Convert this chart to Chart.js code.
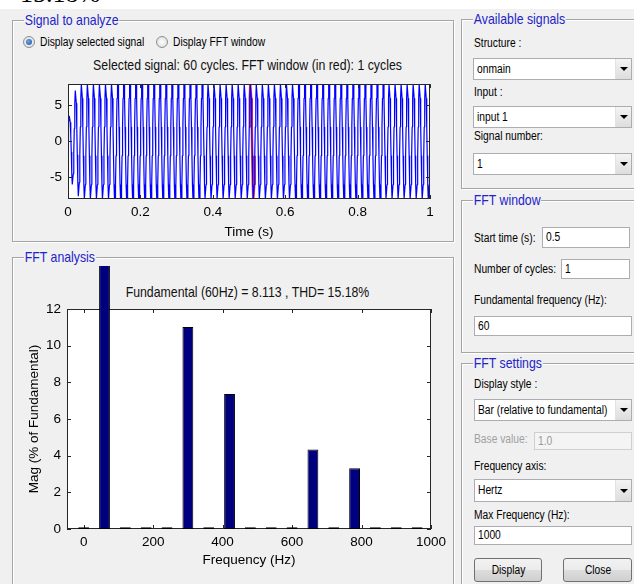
<!DOCTYPE html>
<html>
<head>
<meta charset="utf-8">
<script src="https://cdn.jsdelivr.net/npm/chart.js@4.4.1/dist/chart.umd.min.js"></script>
<style>
  body { margin: 0; width: 634px; height: 584px; overflow: hidden; background: #F0F0F0; position: relative;
         font-family: 'Liberation Sans', Arial, sans-serif; font-size: 12.5px; color: #000; }
  .abs { position: absolute; }
  .n { display: inline-block; transform: scaleX(0.82); transform-origin: 0 50%; white-space: nowrap; }
  .topband { left: 0; top: 0; width: 634px; height: 9px; background: #fff; overflow: hidden; }
  .topband span { position: absolute; left: 20px; top: -19px; font: 26px/26px 'Liberation Serif', 'Times New Roman', serif; }
  .frame { position: absolute; border: 1px solid #A5A5A5; box-shadow: inset 1px 1px 0 #fff, 1px 1px 0 #fff; box-sizing: border-box; }
  .frame .ttl { position: absolute; left: 11px; top: -10px; background: #F0F0F0; padding: 0 1px; color: #2323C8; font-size: 15px; line-height: 18px;
                transform: scaleX(0.82); transform-origin: 0 50%; white-space: nowrap; }
  .lbl { position: absolute; line-height: 16px; white-space: nowrap; transform: scaleX(0.82); transform-origin: 0 50%; }
  .sel, .inp { position: absolute; background: #fff; border: 1px solid #ABADB3; box-sizing: border-box; padding-left: 3px; white-space: nowrap; overflow: hidden; }
  .sel .arr { position: absolute; right: 0; top: 0; bottom: 0; width: 15px; background: linear-gradient(#F4F4F4, #DDDDDD); border-left: 1px solid #E2E2E2; }
  .sel .arr::after { content: ''; position: absolute; left: 4px; top: 50%; margin-top: -2px; border-left: 4px solid transparent; border-right: 4px solid transparent; border-top: 4px solid #000; }
  .dis { background: #F4F4F4; border-color: #CFCFCF; color: #9A9A9A; }
  .btn { position: absolute; box-sizing: border-box; border: 1px solid #707070; border-radius: 3px; background: linear-gradient(#F2F2F2 0%, #EBEBEB 50%, #DDDDDD 51%, #CFCFCF 100%); text-align: center; }
  .btn .n { transform-origin: 50% 50%; }
  .radio { position: absolute; width: 12px; height: 12px; border-radius: 50%; border: 1px solid #8E8F8F; box-sizing: border-box; background: radial-gradient(#fff, #D6D6D6); }
  .radio.on::after { content: ''; position: absolute; left: 2px; top: 2px; width: 6px; height: 6px; border-radius: 50%; background: radial-gradient(circle at 40% 40%, #6CA4E6, #1D4F9E); }
  .ptitle { position: absolute; left: 0; width: 495px; text-align: center; font-size: 15px; line-height: 18px; color: #111;
            transform: scaleX(0.82); transform-origin: 247.5px 50%; white-space: nowrap; }
  canvas { position: absolute; }
</style>
</head>
<body>
<div class="abs topband"><span>15.18%</span></div>

<div class="frame" style="left:12px;top:20px;width:442px;height:222px"><span class="ttl">Signal to analyze</span></div>
<div class="frame" style="left:12px;top:257px;width:442px;height:340px"><span class="ttl">FFT analysis</span></div>
<div class="frame" style="left:461px;top:19px;width:190px;height:170px"><span class="ttl">Available signals</span></div>
<div class="frame" style="left:461px;top:200px;width:190px;height:153px"><span class="ttl">FFT window</span></div>
<div class="frame" style="left:461px;top:363px;width:190px;height:300px"><span class="ttl">FFT settings</span></div>

<div class="radio on" style="left:23px;top:36px"></div>
<div class="lbl" style="left:40px;top:34px">Display selected signal</div>
<div class="radio" style="left:156px;top:36px"></div>
<div class="lbl" style="left:173px;top:34px">Display FFT window</div>

<div class="ptitle" style="top:56px">Selected signal: 60 cycles. FFT window (in red): 1 cycles</div>
<div class="ptitle" style="top:283px">Fundamental (60Hz) = 8.113 , THD= 15.18%</div>

<div class="lbl" style="left:474px;top:35px">Structure :</div>
<div class="sel" style="left:473px;top:58px;width:159px;height:22px;line-height:20px"><span class="n">onmain</span><span class="arr"></span></div>
<div class="lbl" style="left:474px;top:84px">Input :</div>
<div class="sel" style="left:473px;top:106px;width:159px;height:22px;line-height:20px"><span class="n">input 1</span><span class="arr"></span></div>
<div class="lbl" style="left:474px;top:128px">Signal number:</div>
<div class="sel" style="left:473px;top:153px;width:159px;height:22px;line-height:20px"><span class="n">1</span><span class="arr"></span></div>

<div class="lbl" style="left:474px;top:230px">Start time (s):</div>
<div class="inp" style="left:542px;top:227px;width:88px;height:21px;line-height:19px"><span class="n">0.5</span></div>
<div class="lbl" style="left:474px;top:261px">Number of cycles:</div>
<div class="inp" style="left:561px;top:259px;width:69px;height:20px;line-height:18px"><span class="n">1</span></div>
<div class="lbl" style="left:474px;top:292px">Fundamental frequency (Hz):</div>
<div class="inp" style="left:474px;top:316px;width:158px;height:20px;line-height:18px"><span class="n">60</span></div>

<div class="lbl" style="left:474px;top:376px">Display style :</div>
<div class="sel" style="left:474px;top:399px;width:158px;height:22px;line-height:20px"><span class="n">Bar (relative to fundamental)</span><span class="arr"></span></div>
<div class="lbl" style="left:474px;top:431px;color:#A0A0A0">Base value:</div>
<div class="inp dis" style="left:534px;top:432px;width:98px;height:18px;line-height:16px"><span class="n">1.0</span></div>
<div class="lbl" style="left:474px;top:458px">Frequency axis:</div>
<div class="sel" style="left:474px;top:479px;width:158px;height:23px;line-height:21px"><span class="n">Hertz</span><span class="arr"></span></div>
<div class="lbl" style="left:474px;top:507px">Max Frequency (Hz):</div>
<div class="inp" style="left:474px;top:526px;width:158px;height:19px;line-height:17px"><span class="n">1000</span></div>
<div class="btn" style="left:474px;top:558px;width:68px;height:24px;line-height:22px"><span class="n">Display</span></div>
<div class="btn" style="left:563px;top:558px;width:69px;height:24px;line-height:22px"><span class="n">Close</span></div>

<canvas id="signalChart" width="455" height="175" style="left:0;top:70px"></canvas>
<canvas id="fftChart" width="455" height="324" style="left:0;top:260px"></canvas>

<script>
// signal: peak value of each half cycle (60 Hz, 1 s -> 120 half cycles)
const signalPeaks = [
    3.5, -6.0, 7.0, -7.6, 7.9, -8.0, 7.9, -8.0, 7.9, -8.0,
    7.9, -8.0, 7.9, -8.0, 7.9, -8.0, 7.9, -8.0, 7.9, -8.0,
    7.9, -8.0, 7.9, -8.0, 7.9, -8.0, 7.9, -8.0, 7.9, -8.0,
    7.9, -8.0, 7.9, -8.0, 7.9, -8.0, 7.9, -8.0, 7.9, -8.0,
    7.9, -8.0, 7.9, -8.0, 7.9, -8.0, 7.9, -8.0, 7.9, -8.0,
    7.9, -8.0, 7.9, -8.0, 7.9, -8.0, 7.9, -8.0, 7.9, -8.0,
    7.9, -8.0, 7.9, -8.0, 7.9, -8.0, 7.9, -8.0, 7.9, -8.0,
    7.9, -8.0, 7.9, -8.0, 7.9, -8.0, 7.9, -8.0, 7.9, -8.0,
    7.9, -8.0, 7.9, -8.0, 7.9, -8.0, 7.9, -8.0, 7.9, -8.0,
    7.9, -8.0, 7.9, -8.0, 7.9, -8.0, 7.9, -8.0, 7.9, -8.0,
    7.9, -8.0, 7.9, -8.0, 7.9, -8.0, 7.9, -8.0, 7.9, -8.0,
    7.9, -8.0, 7.9, -8.0, 7.9, -8.0, 7.9, -8.0, 7.9, -8.0
];
// sampled levels inside one half cycle, as fraction of its peak (steps seen at ~2 and ~6)
const halfCycleShape = [0.25, 0.75, 1, 1, 0.75, 0.25];
const fundamentalHz = 60;
const windowStart = 0.5;
const windowCycles = 1;
const timeTicks = [0, 0.2, 0.4, 0.6, 0.8, 1];
const signalTicks = [-5, 0, 5];

// FFT bars, % of fundamental
const harmonicFreqs = [0, 60, 120, 180, 240, 300, 360, 420, 480, 540, 600, 660, 720, 780, 840, 900, 960];
const harmonicMags = [0.1, 100, 0.1, 0.1, 0.1, 11.02, 0.1, 7.36, 0.1, 0.1, 0.1, 4.33, 0.1, 3.31, 0.1, 0.1, 0.1];
const freqTicks = [0, 200, 400, 600, 800, 1000];
const magTicks = [0, 2, 4, 6, 8, 10, 12];

Chart.defaults.font.family = "'Liberation Sans', Arial, sans-serif";
Chart.defaults.color = '#000';

// MATLAB style axes: white box with ticks pointing inside
const axesBox = {
    id: 'axesBox',
    beforeDraw(chart) {
        const a = chart.chartArea, ctx = chart.ctx;
        ctx.save();
        ctx.fillStyle = '#fff';
        ctx.fillRect(a.left, a.top, a.right - a.left, a.bottom - a.top);
        ctx.restore();
    },
    beforeDatasetsDraw(chart, args, opts) {
        if (!opts.onTop) drawBox(chart);
    },
    afterDatasetsDraw(chart, args, opts) {
        if (opts.onTop) drawBox(chart);
    }
};

function drawBox(chart) {
    const a = chart.chartArea, ctx = chart.ctx;
    const xs = chart.scales.x, ys = chart.scales.y;
    ctx.save();
    ctx.strokeStyle = '#262626';
    ctx.lineWidth = 1;
    ctx.strokeRect(Math.round(a.left) + 0.5, Math.round(a.top) + 0.5,
        Math.round(a.right - a.left) - 1, Math.round(a.bottom - a.top) - 1);
    ctx.beginPath();
    for (const t of xs.ticks) {
        const px = Math.round(xs.getPixelForValue(t.value)) + 0.5;
        ctx.moveTo(px, a.bottom); ctx.lineTo(px, a.bottom - 4);
        ctx.moveTo(px, a.top); ctx.lineTo(px, a.top + 4);
    }
    for (const t of ys.ticks) {
        const py = Math.round(ys.getPixelForValue(t.value)) + 0.5;
        ctx.moveTo(a.left, py); ctx.lineTo(a.left + 4, py);
        ctx.moveTo(a.right, py); ctx.lineTo(a.right - 4, py);
    }
    ctx.stroke();
    ctx.restore();
}

// signal points: sampled levels of every half cycle
const halfPeriod = 1 / (2 * fundamentalHz);
const signalPoints = [{x: 0, y: 0}];
signalPeaks.forEach((peak, k) => {
    halfCycleShape.forEach((f, j) => {
        signalPoints.push({x: (k + (j + 0.5) / halfCycleShape.length) * halfPeriod, y: f * peak});
    });
});
signalPoints.push({x: 1, y: 0});
const windowEnd = windowStart + windowCycles / fundamentalHz;
const windowPoints = signalPoints.filter(p => p.x >= windowStart && p.x <= windowEnd);

const tickFont = {size: 13.5};
const titleFont = {size: 13.5, lineHeight: 1};
const plainLabel = v => String(v);

new Chart(document.getElementById('signalChart'), {
    type: 'line',
    data: {
        datasets: [{
            data: signalPoints,
            borderColor: '#0000FF',
            borderWidth: 1.2,
            pointRadius: 0,
            borderJoinStyle: 'bevel'
        }, {
            data: windowPoints,
            borderColor: 'rgba(255, 40, 40, 0.85)',
            borderWidth: 2.5,
            pointRadius: 0,
            borderJoinStyle: 'bevel'
        }]
    },
    options: {
        responsive: false,
        animation: false,
        events: [],
        layout: {padding: {top: 12, right: 25, bottom: 6, left: 0}},
        plugins: {legend: {display: false}, tooltip: {enabled: false}, axesBox: {onTop: true}},
        scales: {
            x: {
                type: 'linear', min: 0, max: 1,
                grid: {display: false, drawTicks: false},
                border: {display: false},
                afterBuildTicks: s => { s.ticks = timeTicks.map(v => ({value: v})); },
                afterFit: s => { s.height = 40; },
                ticks: {font: tickFont, padding: 5, maxRotation: 0, autoSkip: false, callback: plainLabel},
                title: {display: true, text: 'Time (s)', font: titleFont, padding: 0}
            },
            y: {
                min: -8.0, max: 7.9,
                grid: {display: false, drawTicks: false},
                border: {display: false},
                afterBuildTicks: s => { s.ticks = signalTicks.map(v => ({value: v})); },
                afterFit: s => { s.width = 68; },
                ticks: {font: tickFont, padding: 6, callback: plainLabel}
            }
        }
    },
    plugins: [axesBox]
});

new Chart(document.getElementById('fftChart'), {
    type: 'bar',
    data: {
        datasets: [{
            data: harmonicFreqs.map((f, i) => ({x: f, y: harmonicMags[i]})),
            backgroundColor: '#00007F',
            borderColor: '#000',
            borderWidth: 1,
            borderSkipped: false,
            barPercentage: 0.52,
            categoryPercentage: 1,
            clip: {left: 0, top: 43, right: 0, bottom: 0}
        }]
    },
    options: {
        responsive: false,
        animation: false,
        events: [],
        layout: {padding: {top: 49, right: 24, bottom: 15, left: 0}},
        plugins: {legend: {display: false}, tooltip: {enabled: false}, axesBox: {onTop: false}},
        scales: {
            x: {
                type: 'linear', min: -48, max: 1000, offset: false,
                grid: {display: false, drawTicks: false},
                border: {display: false},
                afterBuildTicks: s => { s.ticks = freqTicks.map(v => ({value: v})); },
                afterFit: s => { s.height = 40; },
                ticks: {font: tickFont, padding: 5, maxRotation: 0, autoSkip: false, callback: plainLabel},
                title: {display: true, text: 'Frequency (Hz)', font: titleFont, padding: {top: 0, bottom: 2}}
            },
            y: {
                min: 0, max: 12,
                grid: {display: false, drawTicks: false},
                border: {display: false},
                afterBuildTicks: s => { s.ticks = magTicks.map(v => ({value: v})); },
                afterFit: s => { s.width = 67; },
                ticks: {font: tickFont, padding: 6, callback: plainLabel},
                title: {display: true, text: 'Mag (% of Fundamental)', font: titleFont, padding: {top: 28, bottom: 0}}
            }
        }
    },
    plugins: [axesBox]
});
</script>
</body>
</html>
